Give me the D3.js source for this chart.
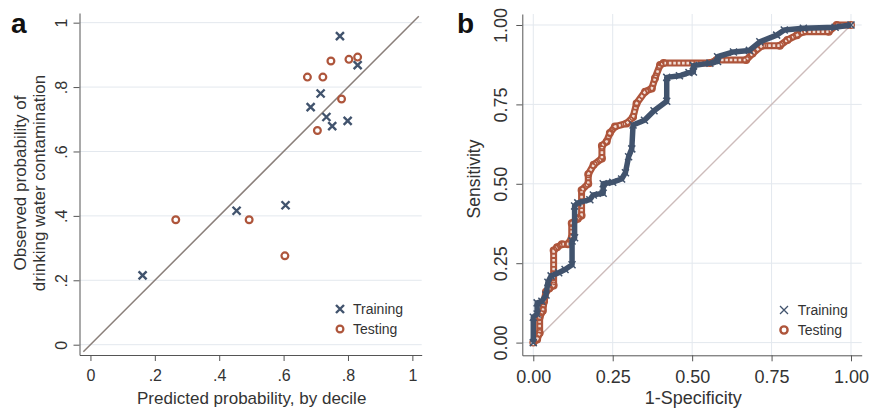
<!DOCTYPE html>
<html>
<head>
<meta charset="utf-8">
<script src="https://cdn.jsdelivr.net/npm/d3@7"></script>
<style>
body { margin: 0; background: #fff; }
svg { font-family: "Liberation Sans", Arial, sans-serif; }
</style>
</head>
<body>
<script>
// panel a: calibration by decile
var calTicks = [0, 0.2, 0.4, 0.6, 0.8, 1];
var calTickLabels = ['0', '.2', '.4', '.6', '.8', '1'];
var trainPred = [0.162, 0.454, 0.606, 0.684, 0.715, 0.733, 0.751, 0.799, 0.775, 0.830];
var trainObs  = [0.215, 0.416, 0.433, 0.738, 0.780, 0.707, 0.679, 0.695, 0.958, 0.868];
var testPred  = [0.265, 0.493, 0.604, 0.674, 0.722, 0.747, 0.705, 0.780, 0.803, 0.830];
var testObs   = [0.388, 0.388, 0.276, 0.831, 0.831, 0.881, 0.665, 0.763, 0.886, 0.893];

// panel b: ROC curves
var rocTicks = [0, 0.25, 0.5, 0.75, 1];
var rocTickLabels = ['0.00', '0.25', '0.50', '0.75', '1.00'];
var trainFpr = [0, 0, 0.012, 0.012, 0.027, 0.04, 0.046, 0.056, 0.08, 0.10, 0.122, 0.122, 0.13, 0.13,
  0.14, 0.178, 0.189, 0.22, 0.22, 0.25, 0.278, 0.29, 0.30, 0.31, 0.314, 0.35, 0.38, 0.42, 0.42,
  0.46, 0.49, 0.504, 0.504, 0.556, 0.58, 0.58, 0.63, 0.68, 0.713, 0.766, 0.79, 0.85, 0.95, 1];
var trainTpr = [0, 0.08, 0.09, 0.125, 0.13, 0.15, 0.19, 0.21, 0.22, 0.23, 0.245, 0.32, 0.33, 0.43,
  0.44, 0.45, 0.465, 0.47, 0.50, 0.505, 0.515, 0.535, 0.585, 0.61, 0.685, 0.70, 0.73, 0.76, 0.835,
  0.84, 0.85, 0.852, 0.872, 0.88, 0.885, 0.90, 0.915, 0.92, 0.947, 0.968, 0.984, 0.99, 0.993, 1];
var testFpr = [0, 0.012, 0.02, 0.02, 0.03, 0.034, 0.04, 0.05, 0.064, 0.064, 0.075, 0.09, 0.109,
  0.121, 0.121, 0.14, 0.152, 0.152, 0.173, 0.173, 0.19, 0.216, 0.216, 0.231, 0.241, 0.257, 0.294,
  0.314, 0.325, 0.352, 0.373, 0.383, 0.399, 0.41, 0.556, 0.577, 0.67, 0.69, 0.72, 0.776, 0.80,
  0.83, 0.85, 0.93, 0.955, 1];
var testTpr = [0, 0.01, 0.03, 0.08, 0.10, 0.13, 0.16, 0.17, 0.18, 0.29, 0.30, 0.31, 0.31,
  0.33, 0.376, 0.39, 0.40, 0.48, 0.50, 0.53, 0.56, 0.58, 0.62, 0.633, 0.66, 0.68, 0.69,
  0.71, 0.753, 0.79, 0.80, 0.832, 0.874, 0.88, 0.88, 0.89, 0.89, 0.91, 0.935, 0.935, 0.953,
  0.968, 0.979, 0.979, 1.0, 1];

var seriesNames = ['Training', 'Testing'];

var navy = '#41536d';
var rust = '#ae553b';
var gridColor = '#e3e8ee';
var axisColor = '#555';

var svg = d3.select('body').append('svg')
    .attr('width', 870)
    .attr('height', 411);

function zip(xs, ys) {
    return xs.map(function(x, i) { return [x, ys[i]]; });
}

function crossPath(s) {
    return 'M' + (-s) + ',' + (-s) + 'L' + s + ',' + s + 'M' + (-s) + ',' + s + 'L' + s + ',' + (-s);
}

// ---------- panel a ----------
var ax = d3.scaleLinear().domain([-0.034, 1.029]).range([79.5, 421.7]);
var ay = d3.scaleLinear().domain([-0.032, 1.03]).range([355, 13]);
var pa = svg.append('g');

pa.selectAll('.hgrid')
    .data(calTicks)
    .enter().append('line')
    .attr('class', 'hgrid')
    .attr('x1', ax.range()[0]).attr('x2', ax.range()[1])
    .attr('y1', function(d) { return ay(d); })
    .attr('y2', function(d) { return ay(d); })
    .style('stroke', gridColor)
    .style('stroke-width', 1);

pa.append('line')
    .attr('x1', ax(-0.022)).attr('y1', ay(-0.022))
    .attr('x2', ax(1.02)).attr('y2', ay(1.02))
    .style('stroke', '#8a7f7a')
    .style('stroke-width', 1.5);

var axA = pa.append('g')
    .attr('transform', 'translate(0,' + ay.range()[0] + ')')
    .call(d3.axisBottom(ax).tickValues(calTicks)
        .tickFormat(function(d, i) { return calTickLabels[i]; })
        .tickSize(6).tickSizeOuter(0));
axA.selectAll('text').attr('y', 26).attr('dy', 0).style('font-size', '16px').style('fill', '#333');

var ayA = pa.append('g')
    .attr('transform', 'translate(' + ax.range()[0] + ',0)')
    .call(d3.axisLeft(ay).tickValues(calTicks)
        .tickFormat(function(d, i) { return calTickLabels[i]; })
        .tickSize(6).tickSizeOuter(0));
ayA.selectAll('text')
    .attr('transform', 'rotate(-90)')
    .attr('x', 0).attr('y', -12.8).attr('dy', 0)
    .style('text-anchor', 'middle')
    .style('font-size', '16px').style('fill', '#333');

[axA, ayA].forEach(function(g) {
    g.select('.domain').style('stroke', axisColor);
    g.selectAll('.tick line').style('stroke', axisColor);
});

pa.selectAll('.trainpt')
    .data(zip(trainPred, trainObs))
    .enter().append('path')
    .attr('class', 'trainpt')
    .attr('transform', function(d) { return 'translate(' + ax(d[0]) + ',' + ay(d[1]) + ')'; })
    .attr('d', crossPath(4))
    .style('stroke', navy)
    .style('stroke-width', 2.4)
    .style('fill', 'none');

pa.selectAll('.testpt')
    .data(zip(testPred, testObs))
    .enter().append('circle')
    .attr('class', 'testpt')
    .attr('cx', function(d) { return ax(d[0]); })
    .attr('cy', function(d) { return ay(d[1]); })
    .attr('r', 3.4)
    .style('stroke', rust)
    .style('stroke-width', 2.2)
    .style('fill', 'none');

pa.append('text')
    .attr('x', 251.7).attr('y', 404)
    .style('text-anchor', 'middle')
    .style('font-size', '17px').style('fill', '#333')
    .text('Predicted probability, by decile');

pa.append('text')
    .attr('transform', 'translate(26,183) rotate(-90)')
    .style('text-anchor', 'middle')
    .style('font-size', '17px').style('fill', '#333')
    .text('Observed probability of');
pa.append('text')
    .attr('transform', 'translate(45,183) rotate(-90)')
    .style('text-anchor', 'middle')
    .style('font-size', '17px').style('fill', '#333')
    .text('drinking water contamination');

pa.append('text')
    .attr('x', 11).attr('y', 33)
    .style('font-size', '28px').style('font-weight', 'bold').style('fill', '#111')
    .text('a');

// legend a
pa.append('path')
    .attr('transform', 'translate(340,309)')
    .attr('d', crossPath(4))
    .style('stroke', navy).style('stroke-width', 2.4).style('fill', 'none');
pa.append('circle')
    .attr('cx', 340).attr('cy', 329).attr('r', 3.4)
    .style('stroke', rust).style('stroke-width', 2.2).style('fill', 'none');
pa.selectAll('.legtext')
    .data(seriesNames)
    .enter().append('text')
    .attr('class', 'legtext')
    .attr('x', 353)
    .attr('y', function(d, i) { return 314 + i * 20; })
    .style('font-size', '14px').style('fill', '#333')
    .text(function(d) { return d; });

// ---------- panel b ----------
var bx = d3.scaleLinear().domain([-0.0346, 1.0337]).range([522.3, 861.7]);
var by = d3.scaleLinear().domain([-0.04, 1.0346]).range([355.3, 14]);
var pb = svg.append('g');

pb.selectAll('.hgrid')
    .data(rocTicks)
    .enter().append('line')
    .attr('class', 'hgrid')
    .attr('x1', bx.range()[0]).attr('x2', bx.range()[1])
    .attr('y1', function(d) { return by(d); })
    .attr('y2', function(d) { return by(d); })
    .style('stroke', gridColor).style('stroke-width', 1);
pb.selectAll('.vgrid')
    .data(rocTicks)
    .enter().append('line')
    .attr('class', 'vgrid')
    .attr('y1', by.range()[0]).attr('y2', by.range()[1])
    .attr('x1', function(d) { return bx(d); })
    .attr('x2', function(d) { return bx(d); })
    .style('stroke', gridColor).style('stroke-width', 1);

pb.append('line')
    .attr('x1', bx(0)).attr('y1', by(0))
    .attr('x2', bx(1)).attr('y2', by(1))
    .style('stroke', '#cdbcbb')
    .style('stroke-width', 1.4);

var line = d3.line()
    .x(function(d) { return bx(d[0]); })
    .y(function(d) { return by(d[1]); });

var testData = zip(testFpr, testTpr);
var trainData = zip(trainFpr, trainTpr);

// testing: band of small open circles
pb.append('path')
    .datum(testData)
    .attr('d', line)
    .style('fill', 'none')
    .style('stroke', rust)
    .style('stroke-width', 7)
    .style('stroke-linejoin', 'round');
pb.append('path')
    .datum(testData)
    .attr('d', line)
    .style('fill', 'none')
    .style('stroke', '#f1ddd5')
    .style('stroke-width', 2.6)
    .style('stroke-dasharray', '2.6 1.8');
pb.selectAll('.testroc')
    .data(testData)
    .enter().append('circle')
    .attr('class', 'testroc')
    .attr('cx', function(d) { return bx(d[0]); })
    .attr('cy', function(d) { return by(d[1]); })
    .attr('r', 3.3)
    .style('fill', 'none')
    .style('stroke', rust)
    .style('stroke-width', 1.4);

// training: heavy line of crosses
pb.append('path')
    .datum(trainData)
    .attr('d', line)
    .style('fill', 'none')
    .style('stroke', navy)
    .style('stroke-width', 5.5)
    .style('stroke-linejoin', 'round');
pb.selectAll('.trainroc')
    .data(trainData)
    .enter().append('path')
    .attr('class', 'trainroc')
    .attr('transform', function(d) { return 'translate(' + bx(d[0]) + ',' + by(d[1]) + ')'; })
    .attr('d', crossPath(3.5))
    .style('stroke', navy)
    .style('stroke-width', 1.5);

var axB = pb.append('g')
    .attr('transform', 'translate(0,' + by.range()[0] + ')')
    .call(d3.axisBottom(bx).tickValues(rocTicks)
        .tickFormat(function(d, i) { return rocTickLabels[i]; })
        .tickSize(6).tickSizeOuter(0));
axB.selectAll('text').attr('y', 27.7).attr('dy', 0).style('font-size', '18px').style('fill', '#333');

var ayB = pb.append('g')
    .attr('transform', 'translate(' + bx.range()[0] + ',0)')
    .call(d3.axisLeft(by).tickValues(rocTicks)
        .tickFormat(function(d, i) { return rocTickLabels[i]; })
        .tickSize(6).tickSizeOuter(0));
ayB.selectAll('text')
    .attr('transform', 'rotate(-90)')
    .attr('x', 0).attr('y', -15.3).attr('dy', 0)
    .style('text-anchor', 'middle')
    .style('font-size', '18px').style('fill', '#333');

[axB, ayB].forEach(function(g) {
    g.select('.domain').style('stroke', axisColor);
    g.selectAll('.tick line').style('stroke', axisColor);
});

pb.append('text')
    .attr('x', 693.3).attr('y', 404)
    .style('text-anchor', 'middle')
    .style('font-size', '18px').style('fill', '#333')
    .text('1-Specificity');

pb.append('text')
    .attr('transform', 'translate(480,179) rotate(-90)')
    .style('text-anchor', 'middle')
    .style('font-size', '17.5px').style('fill', '#333')
    .text('Sensitivity');

pb.append('text')
    .attr('x', 457).attr('y', 33)
    .style('font-size', '28px').style('font-weight', 'bold').style('fill', '#111')
    .text('b');

// legend b
pb.append('path')
    .attr('transform', 'translate(784,310)')
    .attr('d', crossPath(4))
    .style('stroke', navy).style('stroke-width', 1.3).style('fill', 'none');
pb.append('circle')
    .attr('cx', 784).attr('cy', 330).attr('r', 3.6)
    .style('stroke', rust).style('stroke-width', 2.4).style('fill', 'none');
pb.selectAll('.legtext')
    .data(seriesNames)
    .enter().append('text')
    .attr('class', 'legtext')
    .attr('x', 797.7)
    .attr('y', function(d, i) { return 315 + i * 20; })
    .style('font-size', '14px').style('fill', '#333')
    .text(function(d) { return d; });
</script>
</body>
</html>
